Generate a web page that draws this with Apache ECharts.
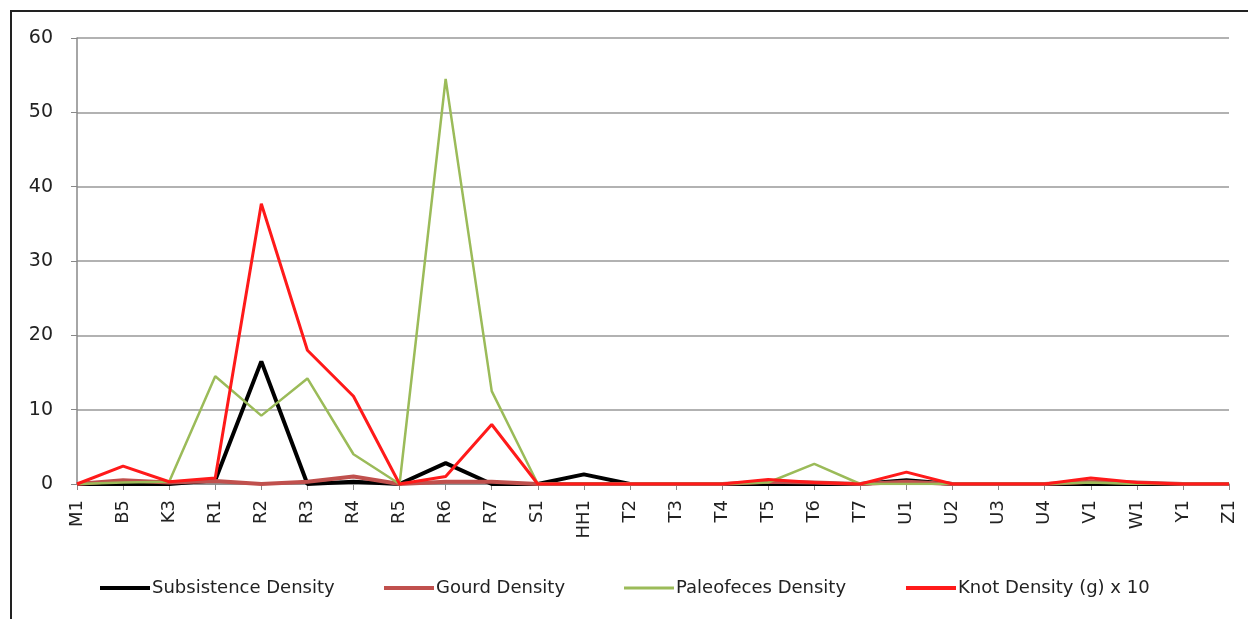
<!DOCTYPE html>
<html>
<head>
    <meta charset="utf-8">
    <title>Density chart</title>
    <script src="https://cdn.jsdelivr.net/npm/echarts@6/dist/echarts.min.js"></script>
</head>
<body style="margin:0;">
<div id="main" style="position:absolute;top:0;left:0;width:1248px;height:619px;background:#fff;"></div>
<script type="text/javascript">
    var units = ['M1', 'B5', 'K3', 'R1', 'R2', 'R3', 'R4', 'R5', 'R6', 'R7', 'S1', 'HH1', 'T2',
        'T3', 'T4', 'T5', 'T6', 'T7', 'U1', 'U2', 'U3', 'U4', 'V1', 'W1', 'Y1', 'Z1'];

    var subsistence = [0, 0, 0, 0.5, 16.5, 0, 0.3, 0, 2.8, 0, 0, 1.3, 0,
        0, 0, 0, 0, 0, 0.5, 0, 0, 0, 0, 0, 0, 0];
    var gourd = [0, 0.5, 0.2, 0.4, 0, 0.3, 1.0, 0, 0.3, 0.3, 0, 0, 0,
        0, 0, 0.3, 0.2, 0, 0.3, 0, 0, 0, 0.3, 0.2, 0, 0];
    var paleofeces = [0, 0.2, 0.3, 14.5, 9.2, 14.2, 4.0, 0, 54.5, 12.5, 0, 0, 0,
        0, 0, 0.2, 2.7, 0, 0, 0, 0, 0, 0.2, 0, 0, 0];
    var knot = [0, 2.4, 0.3, 0.8, 37.7, 18.0, 11.8, 0, 1.0, 8.0, 0, 0, 0,
        0, 0, 0.6, 0.2, 0, 1.6, 0, 0, 0, 0.8, 0.2, 0, 0];

    var names = ['Subsistence Density', 'Gourd Density', 'Paleofeces Density', 'Knot Density (g) x 10'];
    var colors = ['#000000', '#C0504D', '#9BBB59', '#FF1A1A'];
    var legendLeft = [95, 379, 619, 901];

    var myChart = echarts.init(document.getElementById('main'));

    function line(i, data, width) {
        return {
            name: names[i],
            type: 'line',
            data: data,
            symbol: 'none',
            lineStyle: {color: colors[i], width: width},
            itemStyle: {color: colors[i]}
        };
    }

    // one legend per item so each sits where it does in the original
    var legends = names.map(function (n, i) {
        return {
            left: legendLeft[i],
            top: 574,
            icon: 'rect',
            itemWidth: 50,
            itemHeight: i == 2 ? 3 : 4,
            textStyle: {fontFamily: 'DejaVu Sans', fontSize: 18, color: '#222', padding: [0, 0, 0, -3]},
            data: [n]
        };
    });

    myChart.setOption({
        animation: false,
        graphic: [{
            type: 'rect',
            shape: {x: 11, y: 11, width: 1300, height: 700},
            style: {fill: null, stroke: '#222', lineWidth: 2},
            silent: true
        }],
        grid: {left: 77, right: 19, top: 38, bottom: 135},
        legend: legends,
        xAxis: {
            type: 'category',
            data: units,
            boundaryGap: false,
            axisLine: {lineStyle: {color: '#888', width: 1.5}},
            axisTick: {show: true, length: 6, lineStyle: {color: '#888'}},
            axisLabel: {
                rotate: 90, interval: 0, color: '#222', fontSize: 18,
                fontFamily: 'DejaVu Sans', margin: 16
            }
        },
        yAxis: {
            type: 'value',
            min: 0, max: 60, interval: 10,
            axisLine: {show: true, lineStyle: {color: '#888', width: 1.5}},
            axisTick: {show: true, length: 6, lineStyle: {color: '#888'}},
            splitLine: {lineStyle: {color: '#999', width: 1.5}},
            axisLabel: {color: '#222', fontSize: 19, fontFamily: 'DejaVu Sans', margin: 24}
        },
        series: [
            line(0, subsistence, 4),
            line(1, gourd, 4),
            line(2, paleofeces, 2.5),
            line(3, knot, 3)
        ]
    });
</script>
</body>
</html>
